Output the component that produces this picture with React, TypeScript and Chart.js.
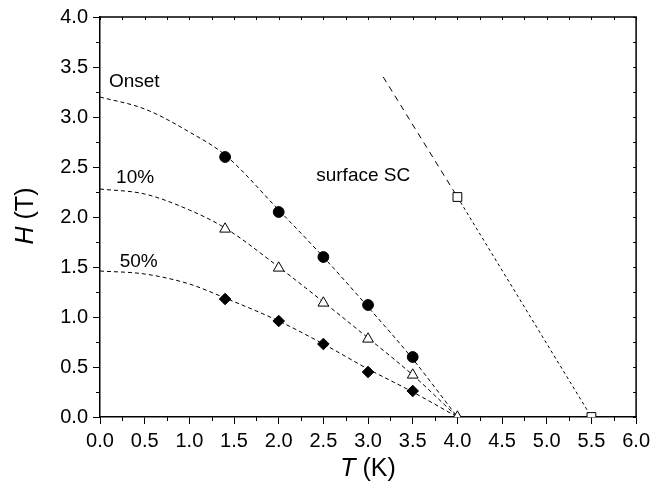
import { useEffect, useRef } from 'react';
import { Chart, registerables } from 'chart.js';

Chart.register(...registerables);

// Measured points
const onsetT = [1.4, 2.0, 2.5, 3.0, 3.5];
const onsetH = [2.6, 2.05, 1.6, 1.12, 0.6];
const tenT = [1.4, 2.0, 2.5, 3.0, 3.5, 4.0];
const tenH = [1.88, 1.49, 1.14, 0.78, 0.42, 0.0];
const fiftyT = [1.4, 2.0, 2.5, 3.0, 3.5];
const fiftyH = [1.18, 0.96, 0.73, 0.45, 0.26];
const surfT = [4.0, 5.5];
const surfH = [2.2, 0.0];

// Guide curves
const onsetFitT = [0, 0.5, 1.0, 1.4, 2.0, 2.5, 3.0, 3.5, 4.0];
const onsetFitH = [3.2, 3.08, 2.85, 2.62, 2.07, 1.6, 1.1, 0.58, 0.0];
const tenFitT = [0, 0.5, 1.0, 1.4, 2.0, 2.5, 3.0, 3.5, 4.0];
const tenFitH = [2.28, 2.23, 2.07, 1.89, 1.5, 1.15, 0.79, 0.42, 0.0];
const fiftyFitT = [0, 0.5, 1.0, 1.4, 2.0, 2.5, 3.0, 3.5, 4.0];
const fiftyFitH = [1.46, 1.43, 1.33, 1.19, 0.96, 0.73, 0.48, 0.25, 0.0];
const surfUpperT = [3.17, 4.0];
const surfUpperH = [3.4, 2.2];
const surfLowerT = [4.0, 5.5];
const surfLowerH = [2.2, 0.0];

// Axis ranges / ticks
const xMin = 0, xMax = 6, xStep = 0.5;
const yMin = 0, yMax = 4, yStep = 0.5;

// Text labels
const labels = [
  { text: 'Onset', x: 0.1, y: 3.3 },
  { text: '10%', x: 0.18, y: 2.34 },
  { text: '50%', x: 0.22, y: 1.5 },
  { text: 'surface SC', x: 2.42, y: 2.36 },
];

const FONT = '"Liberation Sans", Arial, Helvetica, sans-serif';

const pts = (xs: number[], ys: number[]) => xs.map((x, i) => ({ x, y: ys[i] }));

const framePlugin = {
  id: 'frame',
  afterDraw(chart: any) {
    const { ctx, chartArea: a, scales } = chart;
    const xs = scales.x, ys = scales.y;
    ctx.save();
    ctx.strokeStyle = '#000';
    ctx.lineWidth = 1.5;
    ctx.beginPath();
    ctx.moveTo(a.left, a.top);
    ctx.lineTo(a.right, a.top);
    ctx.lineTo(a.right, a.bottom);
    ctx.stroke();
    ctx.lineWidth = 1;
    ctx.beginPath();
    for (let v = xMin; v <= xMax + 1e-9; v += xStep / 2) {
      const px = Math.round(xs.getPixelForValue(v)) + 0.5;
      const major = Math.abs(v / xStep - Math.round(v / xStep)) < 1e-6;
      if (!major) {
        ctx.moveTo(px, a.bottom);
        ctx.lineTo(px, a.bottom + 4);
      }
      ctx.moveTo(px, a.top);
      ctx.lineTo(px, a.top + 3);
    }
    for (let v = yMin; v <= yMax + 1e-9; v += yStep / 2) {
      const py = Math.round(ys.getPixelForValue(v)) + 0.5;
      const major = Math.abs(v / yStep - Math.round(v / yStep)) < 1e-6;
      if (!major) {
        ctx.moveTo(a.left, py);
        ctx.lineTo(a.left - 4, py);
      }
      ctx.moveTo(a.right, py);
      ctx.lineTo(a.right - 3, py);
    }
    ctx.stroke();

    ctx.fillStyle = '#000';
    ctx.font = `19px ${FONT}`;
    ctx.textBaseline = 'alphabetic';
    ctx.textAlign = 'left';
    for (const l of labels) {
      ctx.fillText(l.text, xs.getPixelForValue(l.x), ys.getPixelForValue(l.y));
    }

    const drawTitle = (sym: string, rest: string, cx: number, cy: number, rot: number) => {
      ctx.save();
      ctx.translate(cx, cy);
      ctx.rotate(rot);
      ctx.font = `italic 25px ${FONT}`;
      const w1 = ctx.measureText(sym).width;
      ctx.font = `25px ${FONT}`;
      const w2 = ctx.measureText(rest).width;
      const start = -(w1 + w2) / 2;
      ctx.textBaseline = 'alphabetic';
      ctx.font = `italic 25px ${FONT}`;
      ctx.fillText(sym, start, 0);
      ctx.font = `25px ${FONT}`;
      ctx.fillText(rest, start + w1, 0);
      ctx.restore();
    };
    drawTitle('T', ' (K)', (a.left + a.right) / 2, 476, 0);
    drawTitle('H', ' (T)', 33, 216, -Math.PI / 2);
    ctx.restore();
  },
};

export default function App() {
  const ref = useRef<HTMLCanvasElement>(null);
  useEffect(() => {
    if (!ref.current) return;
    const lineDs = (data: any[], dash: number[]) => ({
      data,
      showLine: true,
      borderColor: '#000',
      borderWidth: 1,
      borderDash: dash,
      pointRadius: 0,
      cubicInterpolationMode: 'monotone',
      tension: 0.4,
      fill: false,
    });
    const chart = new Chart(ref.current, {
      type: 'scatter',
      data: {
        datasets: [
          {
            data: pts(onsetT, onsetH),
            pointStyle: 'circle',
            pointRadius: 5.4,
            backgroundColor: '#000',
            borderColor: '#000',
            borderWidth: 1,
          },
          {
            data: pts(tenT, tenH),
            pointStyle: 'triangle',
            pointRadius: 6.2,
            backgroundColor: '#fff',
            borderColor: '#000',
            borderWidth: 1,
          },
          {
            data: pts(fiftyT, fiftyH),
            pointStyle: 'rectRot',
            pointRadius: 5.8,
            backgroundColor: '#000',
            borderColor: '#000',
            borderWidth: 1,
          },
          {
            data: pts(surfT, surfH),
            pointStyle: 'rect',
            pointRadius: 6.2,
            backgroundColor: '#fff',
            borderColor: '#000',
            borderWidth: 1,
          },
          lineDs(pts(onsetFitT, onsetFitH), [4, 3]),
          lineDs(pts(tenFitT, tenFitH), [4, 3]),
          lineDs(pts(fiftyFitT, fiftyFitH), [4, 3]),
          lineDs(pts(surfUpperT, surfUpperH), [6, 5]),
          lineDs(pts(surfLowerT, surfLowerH), [3, 3]),
        ] as any,
      },
      options: {
        responsive: false,
        animation: false,
        events: [],
        layout: { padding: { left: 0, right: 16, top: 17, bottom: 0 } },
        plugins: { legend: { display: false }, tooltip: { enabled: false } },
        scales: {
          x: {
            type: 'linear',
            min: xMin,
            max: xMax,
            afterFit: (s: any) => { s.height = 75; },
            ticks: {
              stepSize: xStep,
              color: '#000',
              padding: 5,
              font: { family: FONT, size: 20 },
              callback: (v: any) => Number(v).toFixed(1),
            },
            grid: { display: true, drawOnChartArea: false, drawTicks: true, tickLength: 7, color: '#000', lineWidth: 1 },
            border: { display: true, color: '#000', width: 1.5 },
          },
          y: {
            type: 'linear',
            min: yMin,
            max: yMax,
            afterFit: (s: any) => { s.width = 100; },
            ticks: {
              stepSize: yStep,
              color: '#000',
              padding: 5,
              font: { family: FONT, size: 20 },
              callback: (v: any) => Number(v).toFixed(1),
            },
            grid: { display: true, drawOnChartArea: false, drawTicks: true, tickLength: 7, color: '#000', lineWidth: 1 },
            border: { display: true, color: '#000', width: 1.5 },
          },
        },
      },
      plugins: [framePlugin],
    });
    return () => chart.destroy();
  }, []);
  return (
    <div style={{ position: 'fixed', left: 0, top: 0, width: 655, height: 492, background: '#fff' }}>
      <canvas ref={ref} width={655} height={492} style={{ width: 655, height: 492 }} />
    </div>
  );
}
